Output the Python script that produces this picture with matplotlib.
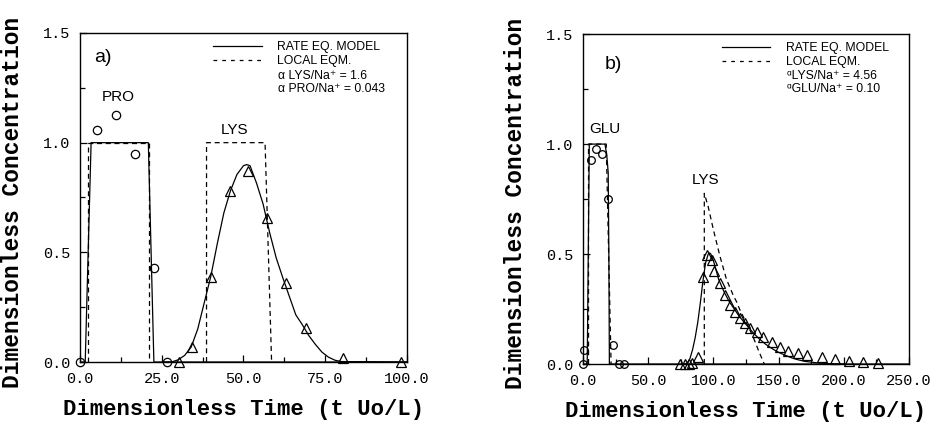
import numpy as np
import matplotlib
matplotlib.use("Agg")
import matplotlib.pyplot as plt
from matplotlib.lines import Line2D
from matplotlib.ticker import MultipleLocator, FormatStrFormatter

plt.rcParams['font.family'] = ['Liberation Sans', 'DejaVu Sans']
plt.rcParams['mathtext.fontset'] = 'custom'
plt.rcParams['mathtext.rm'] = 'Liberation Sans'
plt.rcParams['mathtext.it'] = 'Liberation Sans'

# ---- run a) PRO / LYS ----
pro_t = [0.0, 5.1, 11.0, 16.8, 22.6, 26.7]
pro_c = [0.0, 1.056, 1.128, 0.95, 0.43, 0.0]
lys_a_t = [30.2, 34.3, 40.0, 45.9, 51.5, 57.3, 63.0, 69.0, 80.5, 98.1]
lys_a_c = [0.0, 0.07, 0.389, 0.78, 0.872, 0.655, 0.362, 0.156, 0.017, 0.0]

pro_model_t = [0.0, 1.6, 3.4, 20.9, 22.6, 100.0]
pro_model_c = [0.0, 0.0, 1.0, 1.0, 0.0, 0.0]
pro_eqm_t = [2.6, 2.6, 21.2, 21.2]
pro_eqm_c = [0.0, 1.0, 1.0, 0.0]

lys_a_model_t = [26, 28, 30, 32, 34, 36, 38, 40, 42, 44, 46, 48, 50, 51, 52, 54,
                 56, 58, 60, 62, 64, 66, 68, 70, 72, 74, 76, 78, 80, 100]
lys_a_model_c = [0.0, 0.0, 0.01, 0.03, 0.068, 0.15, 0.27, 0.39, 0.54, 0.68, 0.78,
                 0.855, 0.895, 0.90, 0.895, 0.815, 0.72, 0.59, 0.475, 0.385, 0.30,
                 0.215, 0.17, 0.12, 0.08, 0.045, 0.022, 0.008, 0.002, 0.0]
lys_a_eqm_t = [38.7, 38.7, 56.6, 58.6]
lys_a_eqm_c = [0.0, 1.0, 1.0, 0.0]

# ---- run b) GLU / LYS ----
glu_t = [0.0, 1.0, 5.9, 10.0, 14.6, 19.2, 23.3, 27.4, 31.7]
glu_c = [0.0, 0.064, 0.927, 0.976, 0.955, 0.75, 0.085, 0.0, 0.0]
lys_b_t = [74.4, 77.9, 80.9, 83.9, 88.4, 92.3, 94.8, 98.7, 100.7, 105.1, 108.9,
           112.7, 116.6, 120.4, 124.2, 128.1, 133.2, 138.3, 144.7, 151.1, 157.5,
           165.1, 171.5, 183.0, 193.2, 204.0, 215.0, 226.3]
lys_b_c = [0.0, 0.0, 0.0, 0.005, 0.033, 0.397, 0.495, 0.473, 0.424, 0.367, 0.314,
           0.268, 0.238, 0.208, 0.185, 0.162, 0.147, 0.124, 0.101, 0.079, 0.061,
           0.051, 0.041, 0.033, 0.021, 0.015, 0.01, 0.005]

glu_model_t = [0.0, 3.2, 4.8, 16.8, 18.2, 19.3, 19.8, 20.2, 250.0]
glu_model_c = [0.0, 0.0, 1.0, 1.0, 0.95, 0.87, 0.5, 0.0, 0.0]
glu_eqm_t = [4.2, 4.2, 17.8, 21.5]
glu_eqm_c = [0.0, 1.0, 1.0, 0.0]

lys_b_model_t = [78, 80, 82, 84, 86, 88, 90, 92, 94, 96, 97, 98, 100, 104, 108, 112,
                 116, 120, 125, 130, 135, 140, 145, 150, 155, 160, 165, 170, 180,
                 190, 200]
lys_b_model_c = [0.0, 0.005, 0.025, 0.065, 0.12, 0.19, 0.28, 0.38, 0.46, 0.50,
                 0.505, 0.50, 0.47, 0.385, 0.33, 0.285, 0.25, 0.215, 0.18, 0.145,
                 0.115, 0.09, 0.07, 0.053, 0.04, 0.028, 0.019, 0.012, 0.005,
                 0.001, 0.0]
lys_b_eqm_t = [93.0, 93.0, 96, 100, 105, 110, 115, 118, 120, 125, 130, 135, 139]
lys_b_eqm_c = [0.0, 0.776, 0.715, 0.61, 0.49, 0.385, 0.315, 0.28, 0.25, 0.19,
               0.13, 0.055, 0.0]

mono = 'Liberation Mono'
dash = (0, (4, 3))

fig = plt.figure(figsize=(9.41, 4.24), dpi=100)
ax1 = fig.add_axes([0.085, 0.1462, 0.3475, 0.776])
ax2 = fig.add_axes([0.6196, 0.1415, 0.3464, 0.778])


def setup(ax, xmax, xmajor, xminor):
    ax.set_xlim(0, xmax)
    ax.set_ylim(0, 1.5)
    ax.xaxis.set_major_locator(MultipleLocator(xmajor))
    ax.xaxis.set_minor_locator(MultipleLocator(xminor))
    ax.yaxis.set_major_locator(MultipleLocator(0.5))
    ax.yaxis.set_minor_locator(MultipleLocator(0.25))
    ax.xaxis.set_major_formatter(FormatStrFormatter('%.1f'))
    ax.yaxis.set_major_formatter(FormatStrFormatter('%.1f'))
    ax.tick_params(which='both', direction='in', width=0.9, pad=7,
                   labelsize=11)
    ax.tick_params(which='major', length=5)
    ax.tick_params(which='minor', length=3.5)
    for lab in ax.get_xticklabels() + ax.get_yticklabels():
        lab.set_family(mono)
    for s in ax.spines.values():
        s.set_linewidth(1.0)
    ax.set_xlabel('Dimensionless Time (t Uo/L)', family=mono,
                  fontweight='bold', fontsize=16)
    ax.set_ylabel('Dimensionless Concentration', family=mono,
                  fontweight='bold', fontsize=16.5)
    ax.xaxis.set_label_coords(0.5, -0.113)
    ax.yaxis.set_label_coords(-0.172, 0.486)


def key(ax, x0, y0, texts, ys):
    h = [Line2D([], [], color='k', lw=0.9),
         Line2D([], [], color='k', lw=0.9, ls=(0, (3, 4)))]
    ax.legend(h, ['RATE EQ. MODEL', 'LOCAL EQM.'], loc='upper left',
              bbox_to_anchor=(x0, y0), frameon=False, fontsize=8.8,
              handlelength=4.0, handletextpad=1.25, borderpad=0,
              borderaxespad=0, labelspacing=0.15)
    for y, t in zip(ys, texts):
        ax.text(x0 + 0.2, y, t, transform=ax.transAxes, fontsize=8.8,
                ha='left', va='center')


# a)
setup(ax1, 100, 25, 12.5)
ax1.plot(pro_model_t, pro_model_c, 'k-', lw=0.9)
ax1.plot(pro_eqm_t, pro_eqm_c, color='k', ls=dash, lw=0.9)
ax1.plot(lys_a_model_t, lys_a_model_c, 'k-', lw=0.9)
ax1.plot(lys_a_eqm_t, lys_a_eqm_c, color='k', ls=dash, lw=0.9)
ax1.plot(pro_t, pro_c, 'o', mfc='none', mec='k', ms=6, mew=0.9, clip_on=False)
ax1.plot(lys_a_t, lys_a_c, '^', mfc='none', mec='k', ms=7.5, mew=0.9,
         clip_on=False)
ax1.text(7.0, 1.39, 'a)', fontsize=14, ha='center', va='center')
ax1.text(11.7, 1.21, 'PRO', fontsize=11, ha='center', va='center')
ax1.text(47.4, 1.058, 'LYS', fontsize=11, ha='center', va='center')
key(ax1, 0.407, 0.975,
    ['\u03b1 LYS/Na\u207a = 1.6', '\u03b1 PRO/Na\u207a = 0.043'],
    [0.869, 0.829])

# b)
setup(ax2, 250, 50, 25)
ax2.plot(glu_model_t, glu_model_c, 'k-', lw=0.9)
ax2.plot(glu_eqm_t, glu_eqm_c, color='k', ls=dash, lw=0.9)
ax2.plot(lys_b_model_t, lys_b_model_c, 'k-', lw=0.9)
ax2.plot(lys_b_eqm_t, lys_b_eqm_c, color='k', ls=dash, lw=0.9)
ax2.plot(glu_t, glu_c, 'o', mfc='none', mec='k', ms=5.5, mew=0.9, clip_on=False)
ax2.plot(lys_b_t, lys_b_c, '^', mfc='none', mec='k', ms=6.5, mew=0.9,
         clip_on=False)
ax2.text(23, 1.36, 'b)', fontsize=14, ha='center', va='center')
ax2.text(16.9, 1.07, 'GLU', fontsize=11, ha='center', va='center')
ax2.text(93.6, 0.836, 'LYS', fontsize=11, ha='center', va='center')
key(ax2, 0.425, 0.975,
    ['\u1d45LYS/Na\u207a = 4.56', '\u1d45GLU/Na\u207a = 0.10'],
    [0.873, 0.833])

fig.savefig('out.png', dpi=100)
